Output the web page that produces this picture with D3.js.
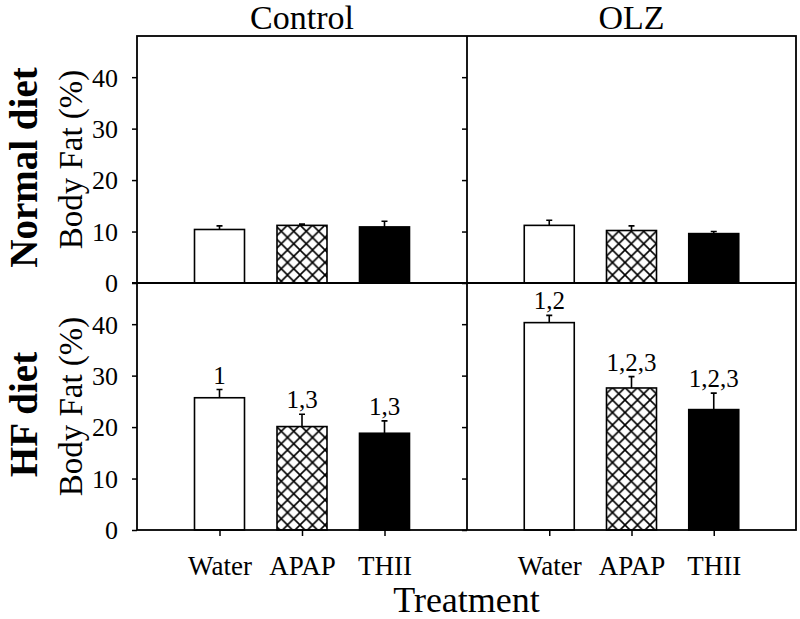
<!DOCTYPE html>
<html>
<head>
<meta charset="utf-8">
<script src="https://cdn.jsdelivr.net/npm/d3@7"></script>
<style>
  body { margin: 0; background: #fff; }
  svg text { font-family: "Liberation Serif", "Times New Roman", Times, "DejaVu Serif", serif !important; fill: #000; }
</style>
</head>
<body>
<div id="chart"></div>
<script>
// data
const treatments = ["Water", "APAP", "THII"];
const groups = ["Control", "OLZ"];
const diets = ["Normal diet", "HF diet"];
const yTicks = [0, 10, 20, 30, 40];

const controlNormal = [10.4, 11.2, 10.9];
const controlNormalSE = [0.7, 0.25, 1.1];
const olzNormal = [11.2, 10.2, 9.6];
const olzNormalSE = [1.0, 0.9, 0.4];
const controlHF = [25.7, 20.1, 18.8];
const controlHFSE = [1.6, 2.4, 2.4];
const olzHF = [40.3, 27.6, 23.4];
const olzHFSE = [1.4, 2.2, 3.2];
const controlHFLabels = ["1", "1,3", "1,3"];
const olzHFLabels = ["1,2", "1,2,3", "1,2,3"];

const panels = [
  { diet: 0, group: 0, mean: controlNormal, se: controlNormalSE, labels: null },
  { diet: 0, group: 1, mean: olzNormal, se: olzNormalSE, labels: null },
  { diet: 1, group: 0, mean: controlHF, se: controlHFSE, labels: controlHFLabels },
  { diet: 1, group: 1, mean: olzHF, se: olzHFSE, labels: olzHFLabels }
];

// layout
const width = 800, height = 619;
const colEdges = [137, 467, 796];
const rowEdges = [36, 283, 530];
const barWidth = 50;
const fills = ["#fff", "url(#hatch)", "#000"];

const svg = d3.select("#chart").append("svg")
  .attr("width", width)
  .attr("height", height);

// crosshatch pattern
const pat = svg.append("defs").append("pattern")
  .attr("id", "hatch")
  .attr("patternUnits", "userSpaceOnUse")
  .attr("width", 12.5)
  .attr("height", 12.5);
pat.append("rect").attr("width", 12.5).attr("height", 12.5).attr("fill", "#fff");
pat.append("path")
  .attr("d", "M0,0L12.5,12.5M12.5,0L0,12.5")
  .attr("stroke", "#000")
  .attr("stroke-width", 1.6);

const xScales = groups.map((g, i) => d3.scalePoint()
  .domain(treatments)
  .range([colEdges[i], colEdges[i + 1]])
  .padding(1));

const yScales = diets.map((d, i) => d3.scaleLinear()
  .domain([0, 48])
  .range([rowEdges[i + 1], rowEdges[i]]));

panels.forEach(p => {
  const x = xScales[p.group];
  const y = yScales[p.diet];
  const g = svg.append("g");

  // bars
  g.selectAll("rect.bar")
    .data(treatments)
    .enter().append("rect")
    .attr("class", "bar")
    .attr("x", d => x(d) - barWidth / 2)
    .attr("y", (d, i) => y(p.mean[i]))
    .attr("width", barWidth)
    .attr("height", (d, i) => y(0) - y(p.mean[i]))
    .attr("fill", (d, i) => fills[i])
    .attr("stroke", "#000")
    .attr("stroke-width", 1.6);

  // error bars (upper only)
  g.selectAll("path.err")
    .data(treatments)
    .enter().append("path")
    .attr("class", "err")
    .attr("d", (d, i) => {
      const cx = x(d), top = y(p.mean[i] + p.se[i]), base = y(p.mean[i]);
      return `M${cx},${base}V${top}M${cx - 3},${top}H${cx + 3}`;
    })
    .attr("stroke", "#000")
    .attr("stroke-width", 1.6)
    .attr("fill", "none");

  // significance labels
  if (p.labels) {
    g.selectAll("text.sig")
      .data(treatments)
      .enter().append("text")
      .attr("class", "sig")
      .attr("x", d => x(d))
      .attr("y", (d, i) => y(p.mean[i] + p.se[i]) - 6)
      .attr("text-anchor", "middle")
      .attr("font-size", 25)
      .text((d, i) => p.labels[i]);
  }

  // y axis ticks on panel's left edge
  const yAxis = d3.axisLeft(y).tickValues(yTicks).tickSize(5).tickPadding(14)
    .tickFormat(p.group === 0 ? d3.format("d") : () => "");
  const ax = g.append("g")
    .attr("transform", `translate(${colEdges[p.group]},0)`)
    .call(yAxis);
  ax.select(".domain").remove();
  ax.selectAll(".tick line").attr("stroke", "#000").attr("stroke-width", 1.5);
  ax.selectAll(".tick text")
    .attr("font-size", 26)
    .attr("dy", "0.34em");

  // x ticks on bottom row
  if (p.diet === 1) {
    const xAxis = d3.axisBottom(x).tickSize(6).tickPadding(20);
    const bx = g.append("g")
      .attr("transform", `translate(0,${rowEdges[2]})`)
      .call(xAxis);
    bx.select(".domain").remove();
    bx.selectAll(".tick line").attr("stroke", "#000").attr("stroke-width", 1.5);
    bx.selectAll(".tick text")
      .attr("font-size", 27);
  }
});

// frame lines
const frame = svg.append("g")
  .attr("fill", "none")
  .attr("stroke", "#000")
  .attr("stroke-width", 1.8);
frame.append("rect")
  .attr("x", colEdges[0]).attr("y", rowEdges[0])
  .attr("width", colEdges[2] - colEdges[0])
  .attr("height", rowEdges[2] - rowEdges[0]);
frame.append("line")
  .attr("x1", colEdges[1]).attr("x2", colEdges[1])
  .attr("y1", rowEdges[0]).attr("y2", rowEdges[2]);
frame.append("line")
  .attr("x1", colEdges[0] - 5).attr("x2", colEdges[2])
  .attr("y1", rowEdges[1]).attr("y2", rowEdges[1]);

// column titles
svg.selectAll("text.col")
  .data(groups)
  .enter().append("text")
  .attr("class", "col")
  .attr("x", (d, i) => (colEdges[i] + colEdges[i + 1]) / 2)
  .attr("y", 29)
  .attr("text-anchor", "middle")
  .attr("font-size", 34)
  .text(d => d);

// row labels
diets.forEach((d, i) => {
  const cy = (rowEdges[i] + rowEdges[i + 1]) / 2;
  svg.append("text")
    .attr("transform", `translate(37,${cy + 8}) rotate(-90)`)
    .attr("text-anchor", "middle")
    .attr("font-size", 39)
    .attr("font-weight", "bold")
    .text(d);
  svg.append("text")
    .attr("transform", `translate(82,${cy}) rotate(-90)`)
    .attr("text-anchor", "middle")
    .attr("font-size", 33)
    .text("Body Fat (%)");
});

// x title
svg.append("text")
  .attr("x", (colEdges[0] + colEdges[2]) / 2)
  .attr("y", 612)
  .attr("text-anchor", "middle")
  .attr("font-size", 36)
  .text("Treatment");
</script>
</body>
</html>
